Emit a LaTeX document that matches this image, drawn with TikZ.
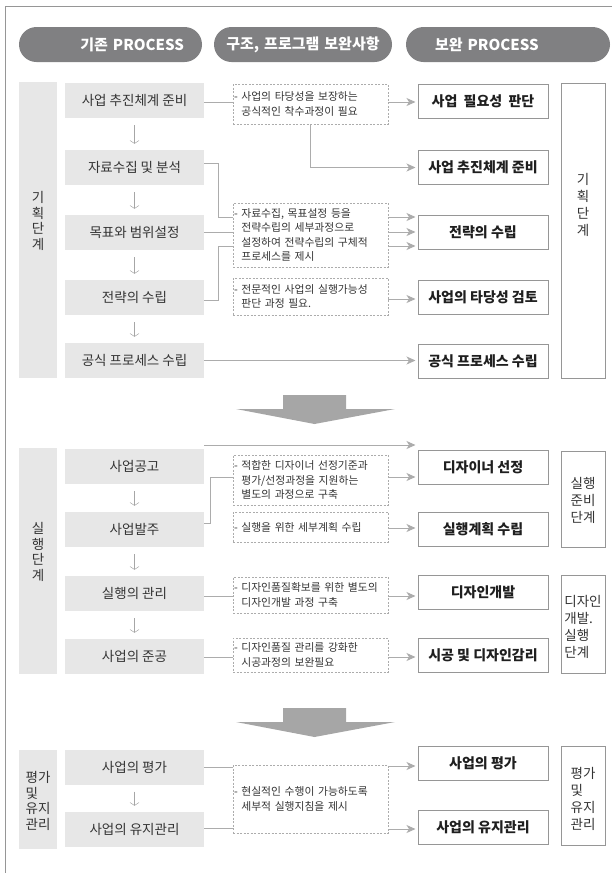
\documentclass[tikz,border=0pt]{standalone}
\usepackage{fontspec}
\setmainfont{Noto Sans CJK KR}
\usetikzlibrary{arrows.meta}

\definecolor{pillgray}{RGB}{128,128,130}
\definecolor{boxgray}{RGB}{231,231,231}
\definecolor{linegray}{RGB}{172,172,172}
\definecolor{framegray}{RGB}{150,150,150}
\definecolor{txtgray}{RGB}{52,52,52}
\definecolor{bigarrow}{RGB}{166,166,166}

\begin{document}
\begin{tikzpicture}[x=1pt,y=-1pt,
        pill/.style={fill=pillgray, rounded corners=17.5pt, minimum height=35pt, inner ysep=0pt, text=white, font=\fontsize{15}{18}\selectfont\bfseries},
        oldbox/.style={fill=boxgray, minimum width=139pt, minimum height=35pt, inner sep=0pt, text=txtgray, font=\fontsize{13.5}{16}\selectfont},
        band/.style={fill=boxgray, minimum width=38pt, inner sep=0pt},
        bandtxt/.style={inner sep=0pt, align=center, text=txtgray, font=\fontsize{13.5}{15.5}\selectfont},
        note/.style={draw=linegray, dash pattern=on 2pt off 1.5pt, line width=0.6pt, minimum width=155pt, inner xsep=1pt, text width=153pt, align=left, text=black!80, font=\fontsize{10.8}{14.5}\selectfont},
        newbox/.style={draw=framegray, line width=1pt, minimum width=130pt, minimum height=34pt, inner sep=0pt, text=black!88, font=\fontsize{14}{16}\selectfont\bfseries},
        stage/.style={draw=framegray, line width=0.8pt, minimum width=44pt, inner sep=0pt},
        stagetxt/.style={inner sep=0pt, align=left, text=txtgray, font=\fontsize{13.5}{17}\selectfont},
        conn/.style={draw=linegray, line width=1pt},
        arr/.style={conn, -{Stealth[length=9pt, width=8pt, inset=2.5pt]}, shorten >=2pt},
        downarr/.style={draw=bigarrow, line width=0.5pt, -{Straight Barb[length=3pt, width=9pt]}, shorten <=7pt, shorten >=6pt}]
        \useasboundingbox (0,0) rectangle (612,873);
        \draw[framegray, line width=0.7pt] (612,6) -- (5,6) -- (5,873);

        \node[pill, inner xsep=18pt, text width=147pt, align=right] (hOld) at (110.5,44.5) {기존 PROCESS};
        \node[pill, inner xsep=4pt, text width=170pt, align=center] (hMid) at (303,44.5) {구조, 프로그램 보완사항};
        \node[pill, inner xsep=29pt, text width=146pt, align=left] (hNew) at (508,44.5) {보완 PROCESS};

        % 기획단계
        \node[band, minimum height=296pt] (pband) at (38,230) {};
        \node[bandtxt] (pbandtxt) at (38,221) {기\\획\\단\\계};
        \node[oldbox] (p1) at (134.5,100.5) {사업 추진체계 준비};
        \node[oldbox] (p2) at (134.5,167.5) {자료수집 및 분석};
        \node[oldbox] (p3) at (134.5,232.5) {목표와 범위설정};
        \node[oldbox] (p4) at (134.5,297.5) {전략의 수립};
        \node[oldbox] (p5) at (134.5,360.5) {공식 프로세스 수립};
        \node[note, minimum height=40pt] (pa) at (310.5,104) {- 사업의 타당성을 보장하는\\\hphantom{-~}공식적인 착수과정이 필요};
        \node[note, minimum height=64pt] (pb) at (310.5,235) {- 자료수집, 목표설정 등을\\\hphantom{-~}전략수립의 세부과정으로\\\hphantom{-~}설정하여 전략수립의 구체적\\\hphantom{-~}프로세스를 제시};
        \node[note, minimum height=37pt] (pc) at (310.5,296.5) {- 전문적인 사업의 실행가능성\\\hphantom{-~}판단 과정 필요.};
        \node[newbox] (pr1) at (483,101) {사업\hspace{3pt} 필요성\hspace{3pt} 판단};
        \node[newbox] (pr2) at (483,167.5) {사업 추진체계 준비};
        \node[newbox] (pr3) at (483,232) {전략의 수립};
        \node[newbox] (pr4) at (483,297.5) {사업의 타당성 검토};
        \node[newbox] (pr5) at (483,361) {공식 프로세스 수립};
        \node[stage, minimum height=295pt] (pstage) at (583,230.5) {};
        \node[stagetxt] (pstagetxt) at (583,205) {기\\획\\단\\계};

        \draw[conn] (p1.east |- 0,102) -- (pa.west |- 0,102);
        \draw[arr] (pa.east |- 0,102) -- (pr1.west |- 0,102);
        \draw[arr] (pa.south) |- (pr2.west);
        \draw[conn] (p2.east |- 0,163) -- (218,163) |- (pb.west |- 0,217);
        \draw[conn] (p3.east) -- (pb.west |- p3.east);
        \draw[conn] (p4.east |- 0,300) -- (218,300) |- (pb.west |- 0,246);
        \foreach \y in {217,232,246}
            \draw[arr] (pb.east |- 0,\y) -- (pr3.west |- 0,\y);
        \draw[arr] (pc.east |- 0,299) -- (pr4.west |- 0,299);
        \draw[arr] (p5.east) -- (pr5.west |- p5.east);

        \fill[bigarrow] (283,395) -- (346,395) -- (346,409) -- (395,409) -- (314.5,424) -- (236,409) -- (283,409) -- cycle;

        % 실행단계
        \node[band, minimum height=226pt] (eband) at (38,561) {};
        \node[bandtxt] (ebandtxt) at (38,552) {실\\행\\단\\계};
        \node[oldbox] (e1) at (134.5,466.5) {사업공고};
        \node[oldbox] (e2) at (134.5,529.5) {사업발주};
        \node[oldbox] (e3) at (134.5,593.5) {실행의 관리};
        \node[oldbox] (e4) at (134.5,656.5) {사업의 준공};
        \node[note, minimum height=50pt] (ed) at (310.5,480) {- 적합한 디자이너 선정기준과\\\hphantom{-~}평가/선정과정을 지원하는\\\hphantom{-~}별도의 과정으로 구축};
        \node[note, minimum height=30pt] (ee) at (310.5,527) {- 실행을 위한 세부계획 수립};
        \node[note, minimum height=36pt] (ef) at (310.5,595) {- 디자인품질확보를 위한 별도의\\\hphantom{-~}디자인개발 과정 구축};
        \node[note, minimum height=34pt] (eg) at (310.5,655) {- 디자인품질 관리를 강화한\\\hphantom{-~}시공과정의 보완필요};
        \node[newbox] (er1) at (483,467.5) {디자이너 선정};
        \node[newbox] (er2) at (483,529.5) {실행계획 수립};
        \node[newbox] (er3) at (483,592.5) {디자인개발};
        \node[newbox] (er4) at (483,655.5) {시공 및 디자인감리};
        \node[stage, minimum height=96pt] (estage1) at (583,499) {};
        \node[stagetxt] (estage1txt) at (583,500.5) {실행\\준비\\단계};
        \node[stage, minimum height=98pt] (estage2) at (583,624) {};
        \node[stagetxt] (estage2txt) at (583,626.5) {디자인\\개발.\\실행\\단계};

        \draw[arr] (e1.north east |- 0,445) -- (er1.west |- 0,445);
        \draw[conn] (e2.east |- 0,523) -- (210,523) |- (ed.west |- 0,477);
        \draw[arr] (ed.east |- 0,477) -- (er1.west |- 0,477);
        \draw[arr] (ee.east |- 0,528) -- (er2.west |- 0,528);
        \draw[conn] (e3.east |- 0,596) -- (ef.west |- 0,596);
        \draw[arr] (ef.east |- 0,596) -- (er3.west |- 0,596);
        \draw[conn] (e4.east |- 0,657) -- (eg.west |- 0,657);
        \draw[arr] (eg.east |- 0,657) -- (er4.west |- 0,657);

        \fill[bigarrow] (283,708) -- (346,708) -- (346,722) -- (395,722) -- (314.5,737) -- (236,722) -- (283,722) -- cycle;

        % 평가 및 유지관리
        \node[band, minimum height=99pt] (mband) at (38,799.5) {};
        \node[bandtxt, align=left] (mbandtxt) at (38,801) {평가\\및\\유지\\관리};
        \node[oldbox] (m1) at (134.5,767) {사업의 평가};
        \node[oldbox] (m2) at (134.5,829.5) {사업의 유지관리};
        \node[note, minimum height=68pt] (mh) at (310.5,799) {- 현실적인 수행이 가능하도록\\\hphantom{-~}세부적 실행지침을 제시};
        \node[newbox] (mr1) at (483,763.5) {사업의 평가};
        \node[newbox] (mr2) at (483,827.5) {사업의 유지관리};
        \node[stage, minimum height=99pt] (mstage) at (583,795.5) {};
        \node[stagetxt] (mstagetxt) at (583,799) {평가\\및\\유지\\관리};

        \draw[conn] (m1.east) -- (mh.west |- m1.east);
        \draw[arr] (mh.east |- 0,766) -- (mr1.west |- 0,766);
        \draw[conn] (m2.east |- 0,828) -- (mh.west |- 0,828);
        \draw[arr] (mh.east |- 0,829) -- (mr2.west |- 0,829);

        \foreach \a/\b in {p1/p2,p2/p3,p3/p4,p4/p5,e1/e2,e2/e3,e3/e4,m1/m2}
            \draw[downarr] (\a) -- (\b);
\end{tikzpicture}
\end{document}
